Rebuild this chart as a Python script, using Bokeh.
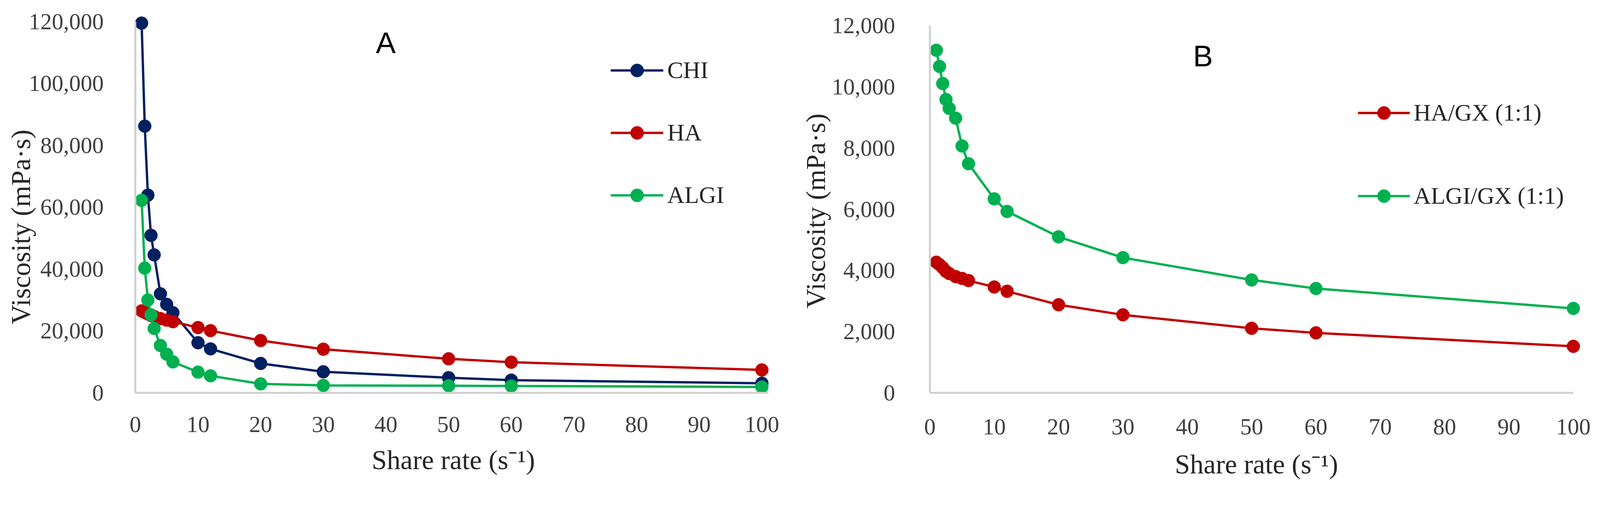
import numpy as np
from bokeh.plotting import figure
from bokeh.layouts import row
from bokeh.models import (FixedTicker, NumeralTickFormatter, Label, Legend, LegendItem,
                          Range1d, Title)
from bokeh.embed import file_html
from bokeh.resources import INLINE

# ---------------- data ----------------
shear_rate = [1, 1.5, 2, 2.5, 3, 4, 5, 6, 10, 12, 20, 30, 50, 60, 100]

chi = [119500, 86200, 63900, 50900, 44600, 32000, 28600, 25900, 16200, 14200, 9500, 6800, 4900, 4100, 3100]
ha = [26500, 26000, 25500, 25000, 24700, 24000, 23500, 23000, 21100, 20100, 16900, 14100, 11000, 9900, 7400]
algi = [62200, 40300, 30000, 25200, 20800, 15300, 12500, 10000, 6700, 5500, 2900, 2400, 2300, 2200, 1900]

ha_gx = [4270, 4190, 4090, 3970, 3900, 3800, 3740, 3670, 3460, 3320, 2880, 2550, 2110, 1960, 1520]
algi_gx = [11200, 10670, 10110, 9590, 9300, 8980, 8070, 7490, 6340, 5930, 5100, 4420, 3690, 3410, 2760]

x_ticks = [0, 10, 20, 30, 40, 50, 60, 70, 80, 90, 100]
y_ticks_a = [0, 20000, 40000, 60000, 80000, 100000, 120000]
y_ticks_b = [0, 2000, 4000, 6000, 8000, 10000, 12000]

names_a = ["CHI", "HA", "ALGI"]
names_b = ["HA/GX (1:1)", "ALGI/GX (1:1)"]
x_title = "Share rate (s\u207b\u00b9)"
y_title = "Viscosity (mPa\u00b7s)"

# ---------------- styles ----------------
NAVY = "#002060"
RED = "#C00000"
GREEN = "#00B050"
AXIS_GRAY = "#D0D0D0"
TICK_COLOR = "#404040"
TITLE_COLOR = "#262626"
SERIF = "Liberation Serif"
SANS = "Liberation Sans"
LW = 6
MS = 33
TICK_FS = 59
TITLE_FS = 70
LEG_FS = 61

# picture -> page scale factors (observed)
KX = 1.033
KY = 1.015
M = 8  # page margin


def px(x):  # reference picture x -> page x
    return x / KX


def py(y):
    return y / KY


H = 1260
TOP = 30


def make_panel(fig_left_page, left, frame_left_ref, frame_bottom_ref, x100_ref, ytop_ref,
               ytop_val, width, x_end, x_bound):
    frame_w = int(round(x_end * (px(x100_ref) - px(frame_left_ref)) / 100.0))
    right = width - left - frame_w
    frame_bottom_page = M + TOP + int(round(py(frame_bottom_ref) - M - TOP))
    frame_h = frame_bottom_page - (M + TOP)
    ppu_x = frame_w / x_end
    y_per_px = ytop_val / (frame_bottom_page - py(ytop_ref))
    y_end = frame_h * y_per_px
    p = figure(width=width, height=H, output_backend="svg", toolbar_location=None,
               x_range=Range1d(0, x_end), y_range=Range1d(0, y_end),
               min_border_left=left, min_border_right=right,
               min_border_top=TOP, min_border_bottom=H - TOP - frame_h)
    p.xgrid.visible = False
    p.ygrid.visible = False
    p.outline_line_color = None
    p.background_fill_color = "white"
    p.border_fill_color = "white"
    p.xaxis.ticker = FixedTicker(ticks=x_ticks)
    p.xaxis.bounds = (0, x_bound)
    p.yaxis.bounds = (0, ytop_val)
    p.yaxis.formatter = NumeralTickFormatter(format="0,0")
    for ax in (p.xaxis, p.yaxis):
        ax.axis_line_color = AXIS_GRAY
        ax.axis_line_width = 5
        ax.major_tick_line_color = None
        ax.minor_tick_line_color = None
        ax.major_label_text_font = SERIF
        ax.major_label_text_font_size = f"{TICK_FS}px"
        ax.major_label_text_color = TICK_COLOR
    p.xaxis.axis_label = x_title
    p.xaxis.axis_label_text_font = SERIF
    p.xaxis.axis_label_text_font_size = f"{TITLE_FS}px"
    p.xaxis.axis_label_text_font_style = "normal"
    p.xaxis.axis_label_text_color = TITLE_COLOR
    geo = dict(frame_left_page=fig_left_page + left, frame_bottom_page=frame_bottom_page,
               ppu_x=ppu_x, y_per_px=y_per_px)
    return p, geo


def to_data(geo, xr, yr):
    return ((px(xr) - geo["frame_left_page"]) / geo["ppu_x"],
            (geo["frame_bottom_page"] - py(yr)) * geo["y_per_px"])


def add_legend(p, geo, items, glyph_left_ref, glyph_w_ref, row_top_ref, row_bot_ref, nrows):
    gh = 84
    pitch = (py(row_bot_ref) - py(row_top_ref)) / (nrows - 1)
    spacing = int(round(pitch - gh))
    lx = px(glyph_left_ref) - geo["frame_left_page"]
    ly = geo["frame_bottom_page"] - (py(row_bot_ref) + gh / 2)
    leg = Legend(items=items, location=(lx, ly), glyph_width=int(round(glyph_w_ref / KX)),
                 glyph_height=gh, label_height=gh, spacing=spacing, label_standoff=10,
                 padding=0, margin=0, border_line_color=None, background_fill_alpha=0,
                 label_text_font=SERIF, label_text_font_size=f"{LEG_FS}px",
                 label_text_color=TITLE_COLOR)
    p.add_layout(leg, "center")


def add_ytitle(p, geo, center_ref, standoff):
    length = 7.111 * TITLE_FS
    offset = geo["frame_bottom_page"] - (py(center_ref) + length / 2)
    t = Title(text=y_title, align="left", offset=offset, vertical_align="middle",
              standoff=standoff, text_font=SERIF, text_font_size=f"{TITLE_FS}px",
              text_font_style="normal", text_color=TITLE_COLOR)
    p.add_layout(t, "left")


# ---------------- panel A ----------------
WA = 2011
pA, gA = make_panel(M, 346, 366, 1040, 2023, 64, 120000, WA, 101.5, 101)
pA.yaxis.ticker = FixedTicker(ticks=y_ticks_a)
pA.yaxis.major_label_standoff = 75
pA.xaxis.major_label_standoff = 55
pA.xaxis.axis_label_standoff = 30

items_a = []
for name, vals, col in zip(names_a, [chi, ha, algi], [NAVY, RED, GREEN]):
    lr = pA.line(shear_rate, vals, line_color=col, line_width=LW)
    sr = pA.scatter(shear_rate, vals, size=MS, fill_color=col, line_color=col)
    items_a.append(LegendItem(label=name, renderers=[lr, sr]))
add_legend(pA, gA, items_a, 1623, 139, 203, 527, 3)
add_ytitle(pA, gA, 610, -45)
ax_, ay_ = to_data(gA, 1028, 120)
pA.add_layout(Label(x=ax_, y=ay_, text="A", text_align="center", text_baseline="middle",
                    text_font=SANS, text_font_size="76px", text_color="#000000"))

# ---------------- panel B ----------------
WB = 2071
pB, gB = make_panel(M + WA, 369, 2467, 1029, 4169, 74.6, 12000, WB, 101.5, 100)
pB.yaxis.ticker = FixedTicker(ticks=y_ticks_b)
pB.yaxis.major_label_standoff = 83
pB.xaxis.major_label_standoff = 61
pB.xaxis.axis_label_standoff = 35

items_b = []
for name, vals, col in zip(names_b, [ha_gx, algi_gx], [RED, GREEN]):
    lr = pB.line(shear_rate, vals, line_color=col, line_width=LW)
    sr = pB.scatter(shear_rate, vals, size=MS, fill_color=col, line_color=col)
    items_b.append(LegendItem(label=name, renderers=[lr, sr]))
add_legend(pB, gB, items_b, 3599, 137, 302, 518, 2)
add_ytitle(pB, gB, 557, -3)
bx_, by_ = to_data(gB, 3189, 153)
pB.add_layout(Label(x=bx_, y=by_, text="B", text_align="center", text_baseline="middle",
                    text_font=SANS, text_font_size="76px", text_color="#000000"))

layout = row(pA, pB)
open("out.html", "w").write(file_html(layout, INLINE))
